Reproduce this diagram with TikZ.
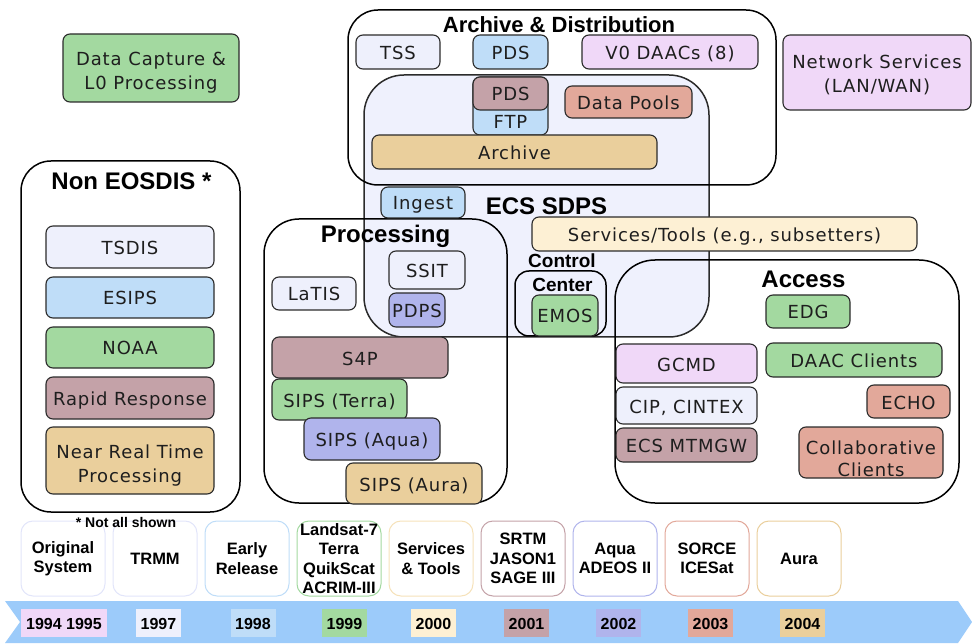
\documentclass[tikz,border=0pt]{standalone}
\usepackage{fontspec}
\newfontfamily\boxfont[LetterSpace=5]{DejaVu Sans}
\newfontfamily\headfont{Liberation Sans}
\definecolor{lav}{HTML}{EEF0FC}
\definecolor{lavline}{HTML}{E2E5FA}
\definecolor{lblue}{HTML}{BFDDF8}
\definecolor{grn}{HTML}{A3D9A0}
\definecolor{mauve}{HTML}{C4A2A8}
\definecolor{ctan}{HTML}{EACF9C}
\definecolor{cpink}{HTML}{F0D8F8}
\definecolor{salmon}{HTML}{E2A89A}
\definecolor{peri}{HTML}{B0B4EC}
\definecolor{cream}{HTML}{FDF0D4}
\definecolor{creamline}{HTML}{F6E2BA}
\definecolor{band}{HTML}{9CCBFA}
\definecolor{ecs}{HTML}{EFF1FD}
\definecolor{edge}{HTML}{2B2B2B}
\definecolor{txt}{HTML}{1E1E1E}
\begin{document}
\begin{tikzpicture}[x=1pt,y=-1pt]
\tikzset{
  box/.style={draw=edge, line width=1.1pt, rounded corners=7pt, inner sep=0pt, text=txt, align=center, font=\boxfont\fontsize{18}{24}\selectfont},
  sl/.style={text height=15pt, text depth=0pt},
  frame/.style={draw=black, line width=1.5pt, rounded corners=30pt, inner sep=0pt},
  head/.style={anchor=base, inner sep=0pt, font=\headfont\bfseries\fontsize{24}{28}\selectfont},
  mile/.style={draw, line width=1pt, rounded corners=12pt, fill=white, minimum width=84pt, minimum height=75pt, inner sep=0pt, align=center, font=\headfont\bfseries\fontsize{16.5}{19.5}\selectfont},
  year/.style={inner sep=0pt, minimum width=45pt, minimum height=28pt, text height=12pt, text depth=0pt, font=\headfont\bfseries\fontsize{16}{19}\selectfont}
}
\useasboundingbox (0,0) rectangle (972,644);

\node[frame, minimum width=219pt, minimum height=351pt] (non) at (130.5,336.5) {};
\node[frame, draw=edge, fill=ecs, rounded corners=40pt, minimum width=345pt, minimum height=262pt] (ecs) at (536.5,206) {};
\node[frame, minimum width=428pt, minimum height=175pt] (arc) at (562,97.5) {};
\node[frame, rounded corners=35pt, minimum width=243pt, minimum height=284pt] (proc) at (385.5,361) {};
\node[frame, rounded corners=40pt, minimum width=344pt, minimum height=243pt] (acc) at (787,381.5) {};
\node[frame, rounded corners=14pt, minimum width=91pt, minimum height=65pt] (ctl) at (560.5,303.5) {};

\node[box, fill=grn, minimum width=176pt, minimum height=68pt] (cap) at (151,68) {\rule{0pt}{23pt}Data Capture \&\\L0 Processing};
\node[box, fill=cpink, minimum width=188pt, minimum height=75pt] (net) at (877,72.5) {\rule{0pt}{19pt}Network Services\\(LAN/WAN)};

\node[head] (nont) at (131.5,190) {Non EOSDIS *};
\node[box, sl, fill=lav, minimum width=168pt, minimum height=42pt] (n1) at (130,247) {TSDIS};
\node[box, sl, fill=lblue, minimum width=168pt, minimum height=41pt] (n2) at (130,297.5) {ESIPS};
\node[box, sl, fill=grn, minimum width=168pt, minimum height=41pt] (n3) at (130,347.5) {NOAA};
\node[box, sl, fill=mauve, minimum width=168pt, minimum height=42pt] (n4) at (130,398) {Rapid Response};
\node[box, fill=ctan, minimum width=168pt, minimum height=67pt] (n5) at (130,460.5) {\rule{0pt}{23pt}Near Real Time\\Processing};

\node[head, font=\headfont\bfseries\fontsize{22}{26}\selectfont] (arct) at (559,33) {Archive \& Distribution};
\node[box, sl, fill=lav, minimum width=84pt, minimum height=34pt] (a1) at (398,52) {TSS};
\node[box, sl, fill=lblue, minimum width=75pt, minimum height=34pt] (a2) at (510.5,52) {PDS};
\node[box, sl, fill=cpink, minimum width=176pt, minimum height=34pt] (a3) at (670,52) {V0 DAACs (8)};
\node[box, fill=lblue, minimum width=75pt, minimum height=58pt] (a4) at (510.5,106) {};
\node[box, sl, fill=mauve, minimum width=75pt, minimum height=33pt] (a5) at (510.5,93.5) {PDS};
\node[inner sep=0pt, text=txt, text height=15pt, text depth=0pt, font=\boxfont\fontsize{18}{24}\selectfont] (a6) at (510.5,121) {FTP};
\node[box, sl, fill=salmon, minimum width=127pt, minimum height=32pt] (a7) at (628.5,102) {Data Pools};
\node[box, sl, fill=ctan, minimum width=285pt, minimum height=34pt] (a8) at (514.5,152) {Archive};

\node[head] (ecst) at (546.5,215) {ECS SDPS};
\node[box, sl, fill=lblue, minimum width=84pt, minimum height=31pt] (e1) at (423,202.5) {Ingest};
\node[box, sl, fill=cream, minimum width=385pt, minimum height=34pt] (e2) at (724.5,234) {Services/Tools (e.g., subsetters)};

\node[head] (proct) at (385.5,243) {Processing};
\node[box, sl, fill=lav, minimum width=84pt, minimum height=33pt] (p1) at (314,293.5) {LaTIS};
\node[box, sl, fill=lav, minimum width=76pt, minimum height=38pt] (p2) at (427,270) {SSIT};
\node[box, sl, fill=peri, minimum width=56pt, minimum height=34pt] (p3) at (417,310) {PDPS};
\node[box, sl, fill=mauve, minimum width=176pt, minimum height=41pt] (p4) at (360,357.5) {S4P};
\node[box, sl, fill=grn, minimum width=135pt, minimum height=41pt] (p5) at (339.5,399.5) {SIPS (Terra)};
\node[box, sl, fill=peri, minimum width=136pt, minimum height=42pt] (p6) at (372,439) {SIPS (Aqua)};
\node[box, sl, fill=ctan, minimum width=136pt, minimum height=41pt] (p7) at (414,483.5) {SIPS (Aura)};

\node[head, font=\headfont\bfseries\fontsize{19}{22}\selectfont] (ctlt) at (562,268) {Control};
\node[head, font=\headfont\bfseries\fontsize{19}{22}\selectfont] (ctlt2) at (562.5,292) {Center};
\node[box, sl, fill=grn, minimum width=66pt, minimum height=41pt] (c1) at (565,315.5) {EMOS};

\node[head] (acct) at (803.5,288) {Access};
\node[box, sl, fill=grn, minimum width=84pt, minimum height=33pt] (x1) at (808,311.5) {EDG};
\node[box, sl, fill=cpink, minimum width=141pt, minimum height=39pt] (x2) at (686.5,363.5) {GCMD};
\node[box, sl, fill=grn, minimum width=176pt, minimum height=34pt] (x3) at (854,360) {DAAC Clients};
\node[box, sl, fill=lav, minimum width=141pt, minimum height=37pt] (x4) at (686.5,405.5) {CIP, CINTEX};
\node[box, sl, fill=mauve, minimum width=141pt, minimum height=34pt] (x5) at (686.5,445) {ECS MTMGW};
\node[box, sl, fill=salmon, minimum width=83pt, minimum height=33pt] (x6) at (908.5,401.5) {ECHO};
\node[box, fill=salmon, minimum width=144pt, minimum height=51pt, font=\boxfont\fontsize{18}{22}\selectfont] (x7) at (871,452.5) {\rule{0pt}{26pt}Collaborative\\Clients};

\node[mile, draw=lavline] (m1) at (63,558.5) {Original\\System};
\node[mile, draw=lavline] (m2) at (155,558.5) {TRMM};
\node[mile, draw=lblue] (m3) at (247,558.5) {Early\\Release};
\node[mile, draw=grn] (m4) at (339,558.5) {Landsat-7\\Terra\\QuikScat\\ACRIM-III};
\node[mile, draw=creamline] (m5) at (431,558.5) {Services\\\& Tools};
\node[mile, draw=mauve] (m6) at (523,558.5) {SRTM\\JASON1\\SAGE III};
\node[mile, draw=peri] (m7) at (615,558.5) {Aqua\\ADEOS II};
\node[mile, draw=salmon] (m8) at (707,558.5) {SORCE\\ICESat};
\node[mile, draw=ctan] (m9) at (799,558.5) {Aura};
\node[anchor=base, inner sep=0pt, font=\headfont\bfseries\fontsize{14}{16}\selectfont] (note) at (126,527) {* Not all shown};

\fill[band] (5,601) -- (958,601) -- (972,622) -- (958,643) -- (5,643) -- (20,622) -- cycle;
\node[year, fill=cpink, minimum width=86pt] (y1) at (64,623) {1994 1995};
\node[year, fill=lav] (y2) at (158.5,623) {1997};
\node[year, fill=lblue] (y3) at (253,623) {1998};
\node[year, fill=grn] (y4) at (344.5,623) {1999};
\node[year, fill=cream] (y5) at (433.5,623) {2000};
\node[year, fill=mauve] (y6) at (526.5,623) {2001};
\node[year, fill=peri] (y7) at (618.5,623) {2002};
\node[year, fill=salmon] (y8) at (710.5,623) {2003};
\node[year, fill=ctan] (y9) at (802.5,623) {2004};
\end{tikzpicture}
\end{document}
